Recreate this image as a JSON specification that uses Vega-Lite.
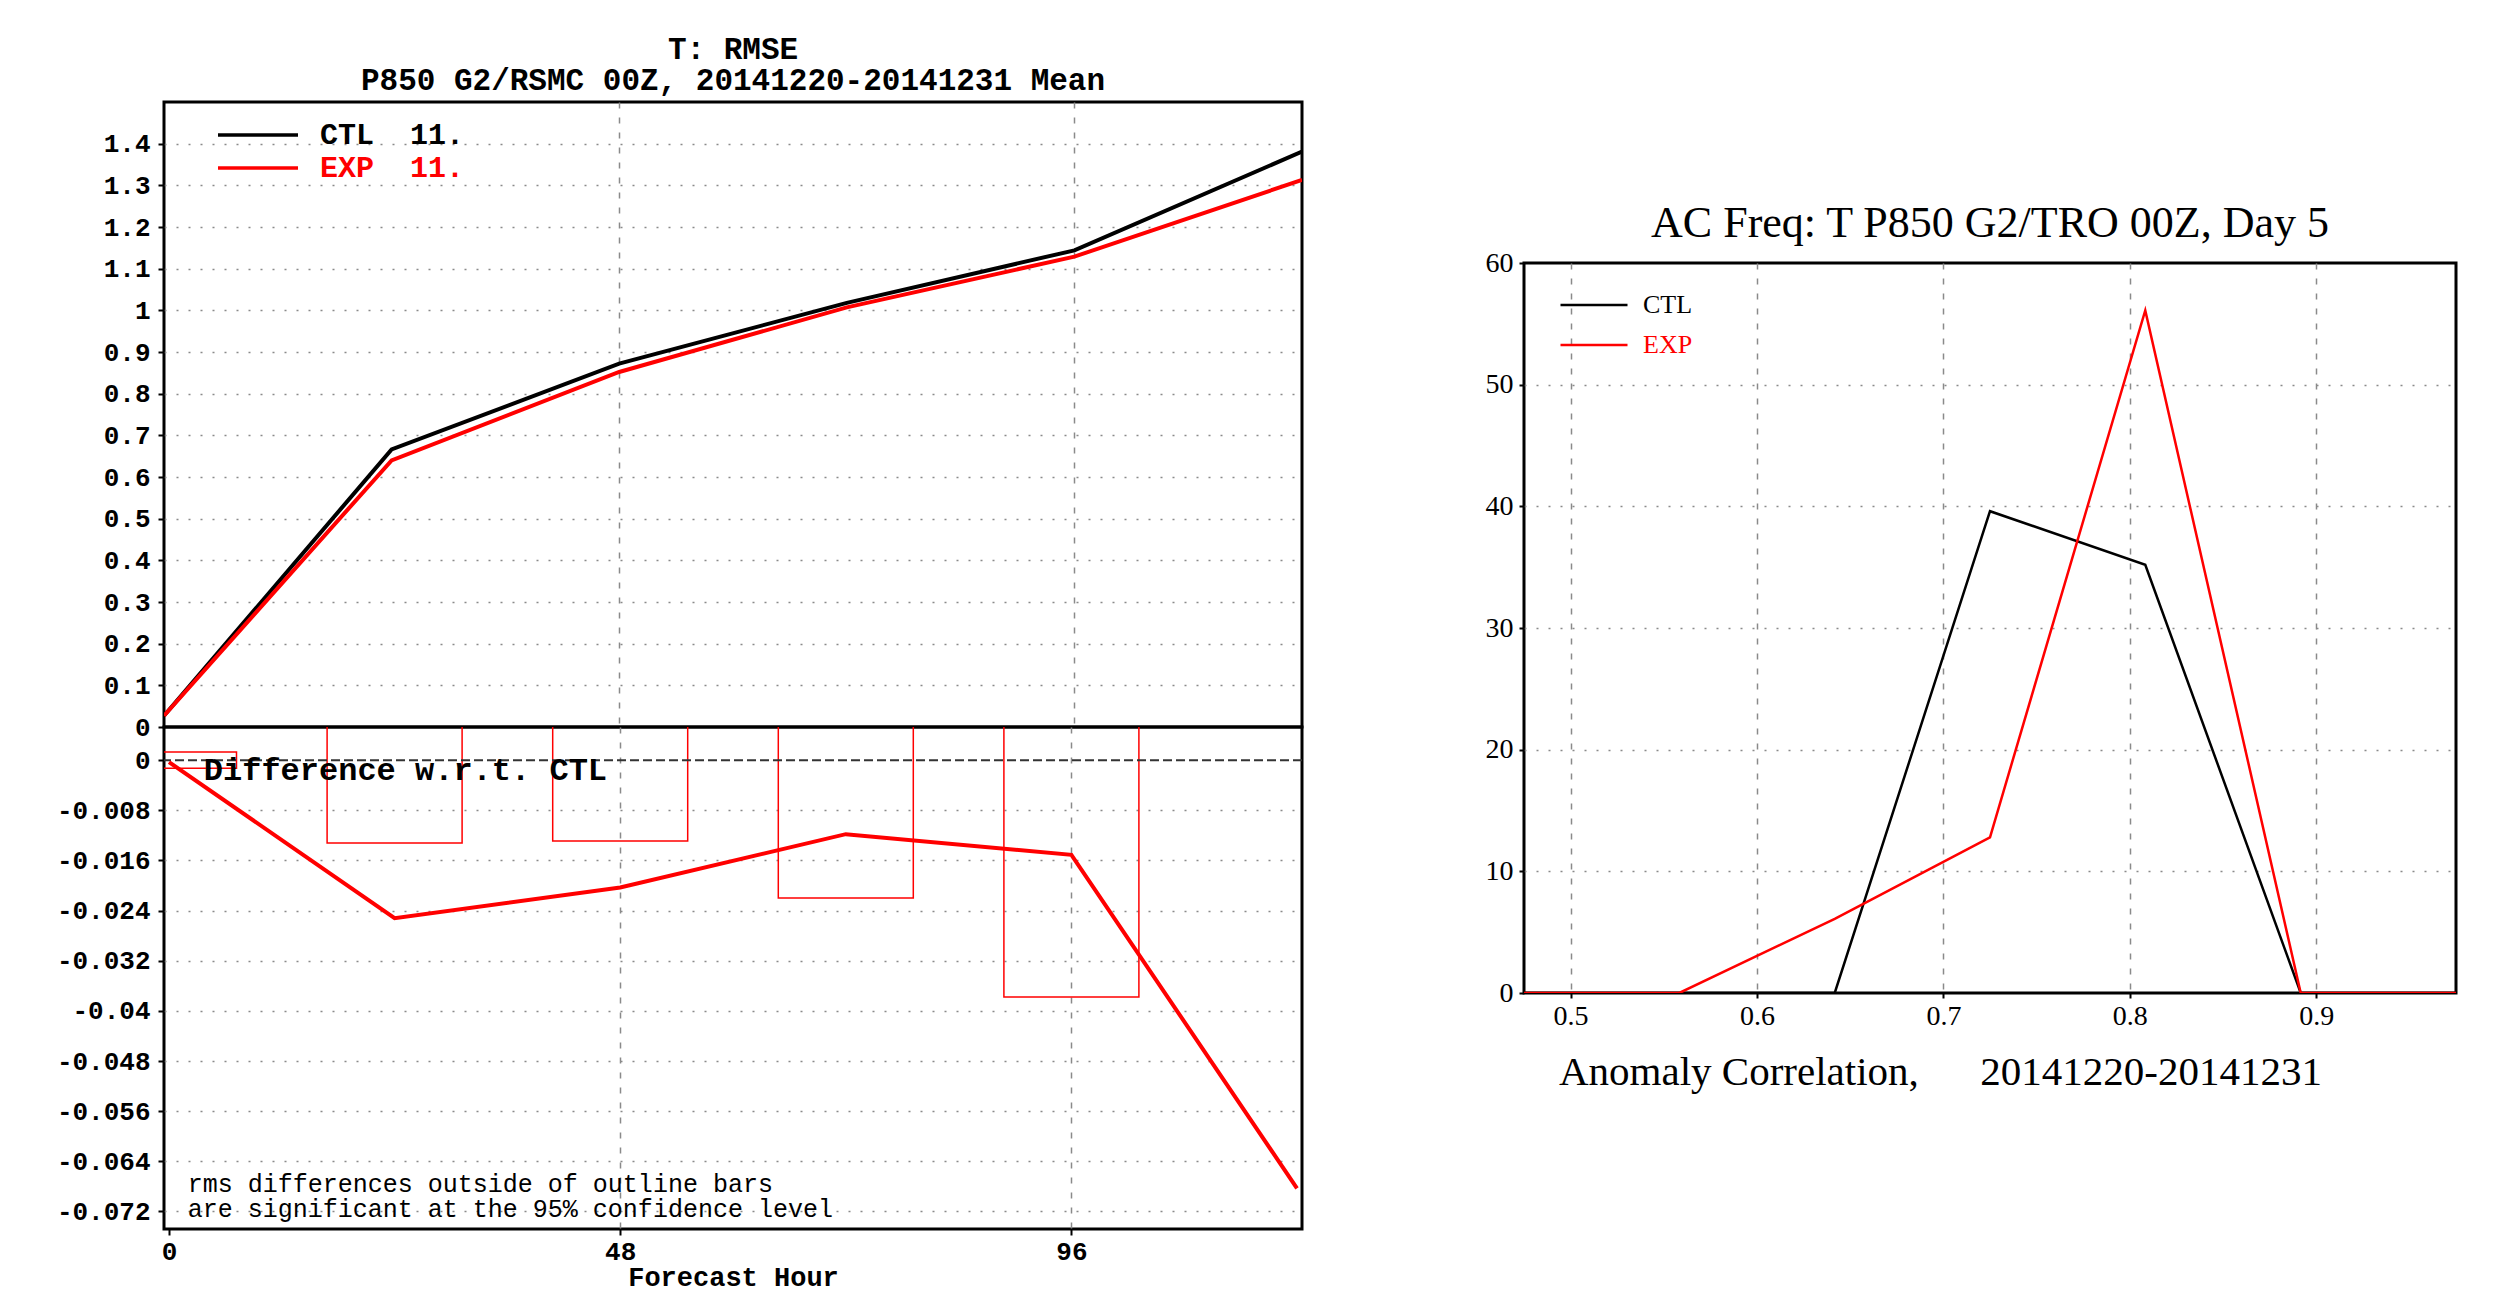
{
  "$schema": "https://vega.github.io/schema/vega-lite/v6.json",
  "background": "white",
  "padding": {"left": 54, "top": 32, "right": 5, "bottom": 0},
  "config": {
    "view": {"stroke": "black", "strokeWidth": 3},
    "title": {"color": "black"},
    "axis": {"labelColor": "black", "titleColor": "black", "tickColor": "black", "domain": false, "gridColor": "#8a8a8a", "gridWidth": 1.5}
  },
  "datasets": {
    "rmse": [
      {"hour": 0, "model": "CTL", "rmse": 0.027},
      {"hour": 24, "model": "CTL", "rmse": 0.666},
      {"hour": 48, "model": "CTL", "rmse": 0.872},
      {"hour": 72, "model": "CTL", "rmse": 1.018},
      {"hour": 96, "model": "CTL", "rmse": 1.144},
      {"hour": 120, "model": "CTL", "rmse": 1.381},
      {"hour": 0, "model": "EXP", "rmse": 0.027},
      {"hour": 24, "model": "EXP", "rmse": 0.64},
      {"hour": 48, "model": "EXP", "rmse": 0.852},
      {"hour": 72, "model": "EXP", "rmse": 1.007},
      {"hour": 96, "model": "EXP", "rmse": 1.129},
      {"hour": 120, "model": "EXP", "rmse": 1.313}
    ],
    "diff": [
      {"hour": 0, "diff": -0.0003},
      {"hour": 24, "diff": -0.0252},
      {"hour": 48, "diff": -0.0203},
      {"hour": 72, "diff": -0.0118},
      {"hour": 96, "diff": -0.0151},
      {"hour": 120, "diff": -0.0683}
    ],
    "sig": [
      {"hour": 0, "lo": -0.0013, "hi": 0.0013},
      {"hour": 24, "lo": -0.0132, "hi": 0.0132},
      {"hour": 48, "lo": -0.0129, "hi": 0.0129},
      {"hour": 72, "lo": -0.022, "hi": 0.022},
      {"hour": 96, "lo": -0.0378, "hi": 0.0378}
    ],
    "ac": [
      {"ac": 0.475, "model": "CTL", "freq": 0},
      {"ac": 0.5583, "model": "CTL", "freq": 0},
      {"ac": 0.6417, "model": "CTL", "freq": 0},
      {"ac": 0.725, "model": "CTL", "freq": 39.6},
      {"ac": 0.8083, "model": "CTL", "freq": 35.2},
      {"ac": 0.8917, "model": "CTL", "freq": 0},
      {"ac": 0.975, "model": "CTL", "freq": 0},
      {"ac": 0.475, "model": "EXP", "freq": 0},
      {"ac": 0.5583, "model": "EXP", "freq": 0},
      {"ac": 0.6417, "model": "EXP", "freq": 6.1},
      {"ac": 0.725, "model": "EXP", "freq": 12.8},
      {"ac": 0.8083, "model": "EXP", "freq": 56.1},
      {"ac": 0.8917, "model": "EXP", "freq": 0},
      {"ac": 0.975, "model": "EXP", "freq": 0}
    ]
  },
  "resolve": {"scale": {"color": "independent"}, "legend": {"color": "independent"}},
  "spacing": 178,
  "hconcat": [
    {
      "spacing": 0,
      "bounds": "flush",
      "vconcat": [
        {
          "width": 1138,
          "height": 625,
          "title": {"text": ["T: RMSE", "P850 G2/RSMC 00Z, 20141220-20141231 Mean"], "font": "Liberation Mono", "fontWeight": "bold", "fontSize": 31, "lineHeight": 31, "anchor": "middle", "offset": 5},
          "data": {"name": "rmse"},
          "mark": {"type": "line", "strokeWidth": 4, "clip": true},
          "encoding": {
            "x": {"field": "hour", "type": "quantitative", "scale": {"domain": [0, 120], "nice": false, "zero": false},
              "axis": {"values": [48, 96], "labels": false, "ticks": false, "title": null, "minExtent": 0, "maxExtent": 0, "grid": true, "gridDash": [6, 9]}},
            "y": {"field": "rmse", "type": "quantitative", "scale": {"domain": [0, 1.5], "nice": false, "zero": false},
              "axis": {"values": [0, 0.1, 0.2, 0.3, 0.4, 0.5, 0.6, 0.7, 0.8, 0.9, 1, 1.1, 1.2, 1.3, 1.4], "format": ".1~f", "title": null,
                "labelFont": "Liberation Mono", "labelFontWeight": "bold", "labelFontSize": 26, "labelPadding": 8, "tickSize": 6, "tickWidth": 2,
                "grid": true, "gridDash": [2, 10], "gridOpacity": {"condition": {"test": "datum.value === 0", "value": 0}, "value": 1}}},
            "color": {"field": "model", "type": "nominal", "scale": {"domain": ["CTL", "EXP"], "range": ["#000000", "#ff0000"]},
              "legend": {"orient": "none", "legendX": 79, "legendY": 18, "direction": "vertical", "title": null,
                "symbolType": "M-4,0H4", "symbolSize": 400, "symbolStrokeWidth": 3.5,
                "labelFont": "Liberation Mono", "labelFontWeight": "bold", "labelFontSize": 30, "labelOffset": 47, "rowPadding": 3,
                "labelExpr": "datum.value + '\u00a0\u00a011.'",
                "labelColor": {"expr": "datum.value === 'EXP' ? '#ff0000' : '#000000'"}}}
          }
        },
        {
          "width": 1138,
          "height": 502,
          "layer": [
            {
              "data": {"name": "sig"},
              "mark": {"type": "bar", "filled": false, "fill": null, "stroke": "#ff0000", "strokeWidth": 1.5, "size": 135, "clip": true},
              "encoding": {
                "x": {"field": "hour", "type": "quantitative", "scale": {"domain": [0, 120], "nice": false, "zero": false},
                  "axis": {"values": [0, 48, 96], "title": "Forecast Hour", "titleFont": "Liberation Mono", "titleFontWeight": "bold", "titleFontSize": 27, "titlePadding": 0,
                    "labelFont": "Liberation Mono", "labelFontWeight": "bold", "labelFontSize": 26, "labelPadding": 3, "tickSize": 6, "tickWidth": 2,
                    "grid": true, "gridDash": [6, 9], "gridOpacity": {"condition": {"test": "datum.value === 0", "value": 0}, "value": 1}}},
                "y": {"field": "lo", "type": "quantitative", "scale": {"domain": [-0.0748, 0.0053], "nice": false, "zero": false},
                  "axis": {"values": [0, -0.008, -0.016, -0.024, -0.032, -0.04, -0.048, -0.056, -0.064, -0.072], "title": null,
                    "labelExpr": "replace(format(datum.value, '.3~f'), '\u2212', '-')",
                    "labelFont": "Liberation Mono", "labelFontWeight": "bold", "labelFontSize": 26, "labelPadding": 8, "tickSize": 6, "tickWidth": 2,
                    "grid": true, "gridDash": [2, 10], "gridOpacity": {"condition": {"test": "datum.value === 0", "value": 0}, "value": 1}}},
                "y2": {"field": "hi"}
              }
            },
            {
              "data": {"values": [{}]},
              "mark": {"type": "rule", "color": "#333333", "strokeWidth": 2, "strokeDash": [9, 4]},
              "encoding": {"y": {"datum": 0, "type": "quantitative", "scale": {"domain": [-0.0748, 0.0053], "nice": false, "zero": false}}}
            },
            {
              "data": {"name": "diff"},
              "mark": {"type": "line", "color": "#ff0000", "strokeWidth": 4, "clip": true},
              "encoding": {
                "x": {"field": "hour", "type": "quantitative", "scale": {"domain": [0, 120], "nice": false, "zero": false}},
                "y": {"field": "diff", "type": "quantitative", "scale": {"domain": [-0.0748, 0.0053], "nice": false, "zero": false}}
              }
            },
            {
              "data": {"values": [{}]},
              "mark": {"type": "text", "align": "left", "baseline": "middle", "font": "Liberation Mono", "fontWeight": "bold", "fontSize": 32, "color": "black"},
              "encoding": {
                "x": {"datum": 3.7, "type": "quantitative", "scale": {"domain": [0, 120], "nice": false, "zero": false}},
                "y": {"datum": -0.0016, "type": "quantitative", "scale": {"domain": [-0.0748, 0.0053], "nice": false, "zero": false}},
                "text": {"value": "Difference w.r.t. CTL"}
              }
            },
            {
              "data": {"values": [{}]},
              "mark": {"type": "text", "align": "left", "baseline": "bottom", "font": "Liberation Mono", "fontSize": 25, "lineHeight": 25, "color": "black"},
              "encoding": {
                "x": {"datum": 2.0, "type": "quantitative", "scale": {"domain": [0, 120], "nice": false, "zero": false}},
                "y": {"datum": -0.0697, "type": "quantitative", "scale": {"domain": [-0.0748, 0.0053], "nice": false, "zero": false}},
                "text": {"value": ["rms differences outside of outline bars", "are significant at the 95% confidence level"]}
              }
            }
          ]
        }
      ]
    },
    {
      "spacing": 0,
      "vconcat": [
        {
          "width": 932,
          "height": 98,
          "view": {"stroke": null},
          "data": {"values": [{}]},
          "mark": {"type": "text", "opacity": 0},
          "encoding": {}
        },
        {
          "width": 932,
          "height": 730,
          "title": {"text": "AC Freq: T P850 G2/TRO 00Z, Day 5", "font": "Liberation Serif", "fontWeight": "normal", "fontSize": 44, "anchor": "middle", "offset": 3},
          "data": {"name": "ac"},
          "mark": {"type": "line", "strokeWidth": 2.5, "clip": true},
          "encoding": {
            "x": {"field": "ac", "type": "quantitative", "scale": {"domain": [0.475, 0.975], "nice": false, "zero": false},
              "axis": {"values": [0.5, 0.6, 0.7, 0.8, 0.9], "format": ".1f", "title": "Anomaly Correlation,\u00a0\u00a0\u00a0\u00a0\u00a0\u00a020141220-20141231",
                "titleFont": "Liberation Serif", "titleFontWeight": "normal", "titleFontSize": 41, "titlePadding": 22, "titleX": 416,
                "labelFont": "Liberation Serif", "labelFontSize": 28, "labelPadding": 4, "tickSize": 5, "tickWidth": 2,
                "grid": true, "gridDash": [6, 9]}},
            "y": {"field": "freq", "type": "quantitative", "scale": {"domain": [0, 60], "nice": false, "zero": false},
              "axis": {"values": [0, 10, 20, 30, 40, 50, 60], "title": null,
                "labelFont": "Liberation Serif", "labelFontSize": 28, "labelPadding": 6, "tickSize": 5, "tickWidth": 2,
                "grid": true, "gridDash": [2, 10], "gridOpacity": {"condition": {"test": "datum.value === 0 || datum.value === 60", "value": 0}, "value": 1}}},
            "color": {"field": "model", "type": "nominal", "scale": {"domain": ["CTL", "EXP"], "range": ["#000000", "#ff0000"]},
              "legend": {"orient": "none", "legendX": 57, "legendY": 190, "direction": "vertical", "title": null,
                "symbolType": "M-3.35,0H3.35", "symbolSize": 400, "symbolStrokeWidth": 2.5,
                "labelFont": "Liberation Serif", "labelFontSize": 26, "labelOffset": 36, "rowPadding": 14,
                "labelColor": {"expr": "datum.value === 'EXP' ? '#ff0000' : '#000000'"}}}
          }
        }
      ]
    }
  ]
}
